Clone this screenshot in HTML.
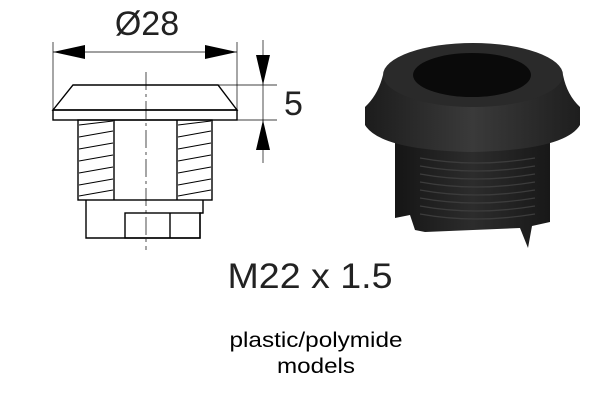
<!DOCTYPE html>
<html><head><style>
html,body{margin:0;padding:0;background:#fff;width:600px;height:400px;overflow:hidden}
svg{display:block}
</style></head><body>
<svg width="600" height="400" viewBox="0 0 600 400" xmlns="http://www.w3.org/2000/svg">
<defs>
<linearGradient id="cone" x1="0" x2="1" y1="0" y2="0">
<stop offset="0" stop-color="#1c1c1c"/><stop offset="0.5" stop-color="#3a3a3a"/><stop offset="1" stop-color="#1e1e1e"/></linearGradient>
<linearGradient id="body" x1="0" x2="1"><stop offset="0" stop-color="#151515"/><stop offset="0.5" stop-color="#2c2c2c"/><stop offset="1" stop-color="#181818"/></linearGradient>
</defs>
<g fill="none" stroke="#000" stroke-width="1.4">
<line x1="53" y1="42" x2="53" y2="110" stroke-width="0.7"/>
<line x1="237" y1="42" x2="237" y2="110" stroke-width="0.7"/>
<line x1="218" y1="85" x2="277" y2="85" stroke-width="0.7"/>
<line x1="237" y1="120" x2="277" y2="120" stroke-width="0.7"/>
<path d="M73,85 L218,85 L237,110 L53,110 Z" fill="#fff"/>
<rect x="53" y="110" width="184" height="10"/>
<rect x="78" y="120" width="134" height="80"/>
<line x1="114" y1="120" x2="114" y2="200"/>
<line x1="177" y1="120" x2="177" y2="200"/>
<path d="M86,200 L86,238 L200,238 L200,213 L203,213 L203,200"/>
<rect x="125" y="213" width="75" height="25"/>
<line x1="170" y1="213" x2="170" y2="238"/>
</g>
<g stroke="#000" stroke-width="1">
<line x1="79" y1="125" x2="113" y2="121"/><line x1="79" y1="137" x2="113" y2="131"/><line x1="79" y1="149" x2="113" y2="143"/><line x1="79" y1="161" x2="113" y2="155"/><line x1="79" y1="173" x2="113" y2="167"/><line x1="79" y1="185" x2="113" y2="179"/><line x1="79" y1="196" x2="113" y2="190"/>
<line x1="178" y1="125" x2="211" y2="121"/><line x1="178" y1="137" x2="211" y2="131"/><line x1="178" y1="149" x2="211" y2="143"/><line x1="178" y1="161" x2="211" y2="155"/><line x1="178" y1="173" x2="211" y2="167"/><line x1="178" y1="185" x2="211" y2="179"/><line x1="178" y1="196" x2="211" y2="190"/>
</g>
<line x1="146" y1="72" x2="146" y2="250" stroke="#000" stroke-width="0.7" stroke-dasharray="18,4,3,4"/>
<line x1="53" y1="52" x2="237" y2="52" stroke="#000" stroke-width="0.7"/>
<path d="M53,52 L85,45 L85,59 Z M237,52 L205,45 L205,59 Z" fill="#000"/>
<line x1="263" y1="40" x2="263" y2="163" stroke="#000" stroke-width="0.7"/>
<path d="M263,85 L256,55 L270,55 Z M263,120 L256,150 L270,150 Z" fill="#000"/>
<text x="147" y="35" font-family="Liberation Sans, sans-serif" font-size="34" text-anchor="middle" fill="#222">Ø28</text>
<text x="284" y="115" font-family="Liberation Sans, sans-serif" font-size="34" fill="#222">5</text>
<path d="M395,140 L550,140 L550,222 L532,226 L528,248 L520,228 L425,232 L415,230 L410,215 L395,218 Z" fill="url(#body)"/>
<g stroke="#3c3c3c" stroke-width="1.3" fill="none">
<path d="M420,158 Q475,168 535,158"/><path d="M420,166 Q475,176 535,166"/><path d="M420,174 Q475,184 535,174"/><path d="M420,182 Q475,192 535,182"/><path d="M420,190 Q475,200 535,190"/><path d="M420,198 Q475,208 535,198"/><path d="M420,206 Q475,216 535,206"/><path d="M420,214 Q475,224 535,214"/>
</g>
<path d="M383,75 Q378,95 365,107 L365,125 Q380,150 472,152 Q565,150 580,125 L580,107 Q567,95 563,75 Z" fill="url(#cone)"/>
<ellipse cx="473" cy="75" rx="90" ry="32" fill="#2a2a2a"/>
<ellipse cx="472" cy="75" rx="59" ry="22" fill="#0a0a0a"/>
<text x="310" y="288" font-family="Liberation Sans, sans-serif" font-size="35" text-anchor="middle" fill="#222" textLength="165" lengthAdjust="spacingAndGlyphs">M22 x 1.5</text>
<text x="316" y="347" font-family="Liberation Sans, sans-serif" font-size="21" text-anchor="middle" fill="#000" textLength="173" lengthAdjust="spacingAndGlyphs">plastic/polymide</text>
<text x="316" y="373" font-family="Liberation Sans, sans-serif" font-size="21" text-anchor="middle" fill="#000" textLength="78" lengthAdjust="spacingAndGlyphs">models</text>
</svg>
</body></html>
